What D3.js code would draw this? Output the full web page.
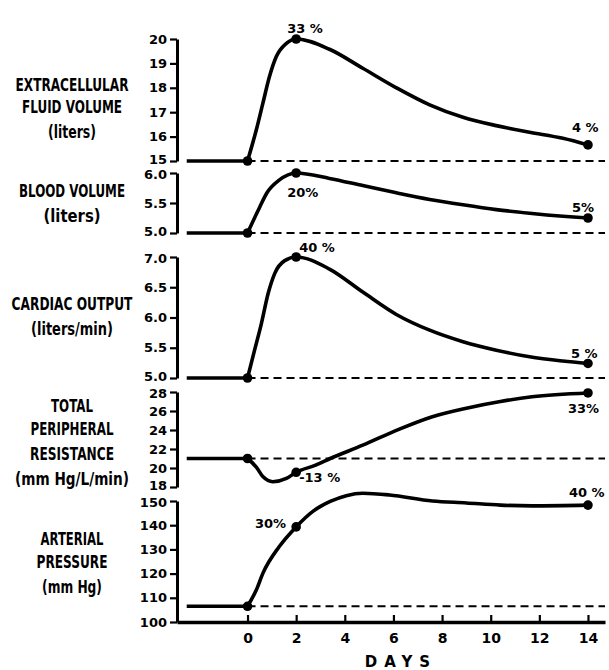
<!DOCTYPE html>
<html>
<head>
<meta charset="utf-8">
<script src="https://cdn.jsdelivr.net/npm/d3@7"></script>
<style>
body { margin: 0; background: #fff; }
</style>
</head>
<body>
<div id="chart"></div>
<script>
// values (day -> value); markers sit at days 0, 2 and 14
const ecfDays = [0, 0.36, 0.63, 0.9, 1.18, 1.6, 2, 3.37, 4.74, 6.12, 7.49, 8.86, 10.23, 11.6, 12.97, 14]
const ecfValues = [15, 16.27, 17.36, 18.45, 19.27, 19.82, 20, 19.58, 18.8, 18.0, 17.3, 16.79, 16.45, 16.18, 15.93, 15.66]
const ecfBase = 15
const ecfTicks = [15, 16, 17, 18, 19, 20]
const ecfPct = ["33 %", "4 %"]
const ecfTitle = ["EXTRACELLULAR", "FLUID VOLUME", "(liters)"]

const bvDays = [0, 0.5, 0.8, 1.3, 2, 3.37, 4.74, 6.12, 7.49, 8.86, 10.23, 11.6, 12.97, 14]
const bvValues = [5.0, 5.43, 5.67, 5.88, 6.0, 5.91, 5.79, 5.67, 5.56, 5.47, 5.39, 5.33, 5.28, 5.25]
const bvBase = 5.0
const bvTicks = [5.0, 5.5, 6.0]
const bvPct = ["20%", "5%"]
const bvTitle = ["BLOOD VOLUME", "(liters)"]

const coDays = [0, 0.29, 0.57, 0.85, 1.12, 1.53, 2, 3.37, 4.74, 6.12, 7.49, 8.86, 10.23, 11.6, 12.97, 14]
const coValues = [5.0, 5.46, 5.9, 6.4, 6.73, 6.94, 7.0, 6.8, 6.42, 6.05, 5.79, 5.6, 5.46, 5.35, 5.28, 5.24]
const coBase = 5.0
const coTicks = [5.0, 5.5, 6.0, 6.5, 7.0]
const coPct = ["40 %", "5 %"]
const coTitle = ["CARDIAC OUTPUT", "(liters/min)"]

const tprDays = [0, 0.36, 0.63, 1.04, 1.6, 2, 2.8, 3.4, 4.74, 6.25, 7.6, 9, 10.4, 11.7, 14]
const tprValues = [21, 20.1, 19.1, 18.56, 18.9, 19.55, 20.3, 21.0, 22.4, 24.1, 25.4, 26.3, 27.0, 27.5, 27.9]
const tprBase = 21
const tprTicks = [18, 20, 22, 24, 26, 28]
const tprPct = ["-13 %", "33%"]
const tprTitle = ["TOTAL", "PERIPHERAL", "RESISTANCE", "(mm Hg/L/min)"]

const apDays = [0, 0.36, 0.63, 1.3, 2, 2.7, 3.4, 4.06, 4.74, 5.84, 7.6, 9, 10.4, 11.7, 14]
const apValues = [106.5, 113.2, 120.1, 131.1, 139.3, 145.8, 149.8, 152.2, 153.2, 152.5, 150, 149.2, 148.3, 148, 148.3]
const apBase = 106.5
const apTicks = [100, 110, 120, 130, 140, 150]
const apPct = ["30%", "40 %"]
const apTitle = ["ARTERIAL", "PRESSURE", "(mm Hg)"]

const markDays = [0, 2, 14]
const pctDays = [2, 14]
const dayTicks = [0, 2, 4, 6, 8, 10, 12, 14]

// layout
const width = 609, height = 670
const tickFont = "'DejaVu Sans', sans-serif"

const panels = [
    { days: ecfDays, values: ecfValues, base: ecfBase, ticks: ecfTicks, fmt: d3.format("d"), pct: ecfPct, title: ecfTitle,
      range: [161, 39], domain: [15, 20],
      pctPos: [[-9, -6, "start"], [-16, -13, "start"]],
      titlePos: [[91, 113], [113, 100], [138, 48]] },
    { days: bvDays, values: bvValues, base: bvBase, ticks: bvTicks, fmt: d3.format(".1f"), pct: bvPct, title: bvTitle,
      range: [233, 173], domain: [5, 6],
      pctPos: [[-9, 24, "start"], [-16, -6, "start"]],
      titlePos: [[197, 106], [222, 57]] },
    { days: coDays, values: coValues, base: coBase, ticks: coTicks, fmt: d3.format(".1f"), pct: coPct, title: coTitle,
      range: [378, 257], domain: [5, 7],
      pctPos: [[3, -5, "start"], [-17, -5, "start"]],
      titlePos: [[310, 121], [335, 82]] },
    { days: tprDays, values: tprValues, base: tprBase, ticks: tprTicks, fmt: d3.format("d"), pct: tprPct, title: tprTitle,
      range: [487, 392], domain: [18, 28],
      pctPos: [[3, 10, "start"], [-20, 20, "start"]],
      titlePos: [[412, 42], [435, 83], [460, 84], [485, 114]] },
    { days: apDays, values: apValues, base: apBase, ticks: apTicks, fmt: d3.format("d"), pct: apPct, title: apTitle,
      range: [622, 501], domain: [100, 150],
      pctPos: [[-10, 1, "end"], [-19, -8, "start"]],
      titlePos: [[545, 63], [568, 71], [593, 60]] }
]

const svg = d3.select("#chart")
    .append("svg")
    .attr("width", width)
    .attr("height", height)

const x = d3.scaleLinear().domain([-2.9, 14.7]).range([177, 605])
const titleX = 72

panels.forEach((p, pi) => {
    const y = d3.scaleLinear().domain(p.domain).range(p.range)
    const data = p.days.map((d, i) => [d, p.values[i]])
    const last = p.ticks.length - 1

    // y axis; end labels nudged apart where two panels meet
    svg.append("g")
        .attr("transform", `translate(${x.range()[0]},0)`)
        .call(d3.axisLeft(y)
            .tickValues(p.ticks)
            .tickFormat(p.fmt)
            .tickSizeInner(7)
            .tickSizeOuter(0)
            .tickPadding(3))
        .call(g => g.select(".domain").attr("stroke-width", 3))
        .call(g => g.selectAll(".tick line").attr("stroke-width", 2.2))
        .selectAll(".tick text")
        .style("font-family", tickFont)
        .style("font-weight", "bold")
        .style("font-size", "13px")
        .attr("fill", "#000")
        .attr("y", (d, i) => {
            if (i === 0 && pi < panels.length - 1) return -2
            if (i === last && pi > 0) return 1.5
            return 0
        })

    // solid baseline before day 0, dashed after
    svg.append("line")
        .attr("x1", x(-2.5)).attr("x2", x(0))
        .attr("y1", y(p.base)).attr("y2", y(p.base))
        .attr("stroke", "#000")
        .attr("stroke-width", 3.5)
    svg.append("line")
        .attr("x1", x(0)).attr("x2", x.range()[1])
        .attr("y1", y(p.base)).attr("y2", y(p.base))
        .attr("stroke", "#000")
        .attr("stroke-width", 2.2)
        .attr("stroke-dasharray", "8,5")

    // the curve
    svg.append("path")
        .datum(data)
        .attr("fill", "none")
        .attr("stroke", "#000")
        .attr("stroke-width", 3.6)
        .attr("stroke-linecap", "round")
        .attr("d", d3.line()
            .x(d => x(d[0]))
            .y(d => y(d[1]))
            .curve(d3.curveMonotoneX))

    svg.selectAll(null)
        .data(data.filter(d => markDays.includes(d[0])))
        .join("circle")
        .attr("cx", d => x(d[0]))
        .attr("cy", d => y(d[1]))
        .attr("r", 4.8)
        .attr("fill", "#000")

    // percent changes
    p.pct.forEach((t, i) => {
        const d = data.find(e => e[0] === pctDays[i])
        const [dx, dy, anchor] = p.pctPos[i]
        svg.append("text")
            .attr("x", x(d[0]) + dx)
            .attr("y", y(d[1]) + dy)
            .attr("text-anchor", anchor)
            .style("font-family", tickFont)
            .style("font-weight", "bold")
            .style("font-size", "13px")
            .text(t)
    })

    // panel title on the left: tall bold type squeezed to the width in the figure
    p.title.forEach((t, i) => {
        const [by, w] = p.titlePos[i]
        const txt = svg.append("text")
            .attr("text-anchor", "middle")
            .style("font-family", tickFont)
            .style("font-weight", "bold")
            .style("font-size", "18px")
            .text(t)
        const len = txt.node().getComputedTextLength()
        txt.attr("transform", `translate(${titleX},${by}) scale(${(w / len).toFixed(3)},1)`)
    })
})

// x axis
svg.append("g")
    .attr("transform", "translate(0,622)")
    .call(d3.axisBottom(x)
        .tickValues(dayTicks)
        .tickFormat(d3.format("d"))
        .tickSizeInner(-7)
        .tickSizeOuter(0)
        .tickPadding(11))
    .call(g => g.select(".domain").attr("stroke-width", 3.5))
    .call(g => g.selectAll(".tick line").attr("stroke-width", 2.2))
    .selectAll(".tick text")
    .style("font-family", tickFont)
    .style("font-weight", "bold")
    .style("font-size", "14px")
    .attr("fill", "#000")

svg.append("text")
    .attr("x", 401)
    .attr("y", 667)
    .attr("text-anchor", "middle")
    .style("font-family", tickFont)
    .style("font-weight", "bold")
    .style("font-size", "15px")
    .style("letter-spacing", "7px")
    .text("DAYS")
</script>
</body>
</html>
